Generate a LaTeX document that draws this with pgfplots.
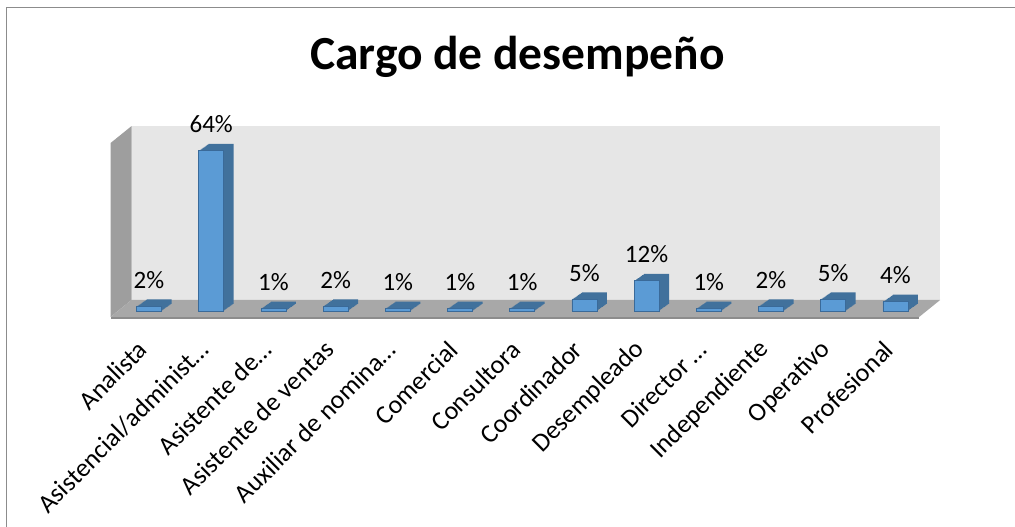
\documentclass[border=0pt]{standalone}
\usepackage{fontspec}
\setmainfont{Carlito}
\usepackage{pgfplots}
\usepackage{pgfplotstable}
\pgfplotsset{compat=1.18}
\definecolor{frontblue}{HTML}{5B9BD5}
\definecolor{sideblue}{HTML}{41719C}
\definecolor{edgeblue}{HTML}{3A6A99}
\definecolor{wallgray}{HTML}{E6E6E6}
\definecolor{floorgray}{HTML}{A8A8A8}
\definecolor{sidewall}{HTML}{9E9E9E}
\pgfplotstableread{
x y
0 1.87
1 64.49
2 0.93
3 1.87
4 0.93
5 0.93
6 0.93
7 4.67
8 12.15
9 0.93
10 1.87
11 4.67
12 3.74
}\data
\begin{document}
\begin{tikzpicture}[x=1pt,y=1pt]
\useasboundingbox (0,0) rectangle (1015,527);
\fill[white] (0,0) rectangle (1015,527);
\draw[black!45, line width=1pt] (6.5,-5) -- (6.5,519.5) -- (1020,519.5);
\node[font=\bfseries\fontsize{47.5}{52}\selectfont, anchor=base] at (517.5,457) {Cargo de desempeño};
\begin{axis}[
  at={(117.9pt,216pt)}, anchor=south west,
  scale only axis, width=808.6pt, height=173.9pt,
  xmin=-0.5, xmax=12.5, ymin=0, ymax=70,
  axis line style={draw=none},
  ytick=\empty,
  xtick={0,...,12},
  xticklabels={Analista,Asistencial/administ…,Asistente de…,Asistente de ventas,Auxiliar de nomina…,Comercial,Consultora,Coordinador,Desempleado,Director …,Independiente,Operativo,Profesional},
  major tick length=0pt,
  xticklabel style={font=\fontsize{26}{30}\selectfont, yshift=-32pt, xshift=-4pt, rotate=45, anchor=east},
  /pgf/number format/assume math mode=true,
  clip=false,
]
\fill[wallgray] ([xshift=13.6pt,yshift=11pt]rel axis cs:0,0) rectangle ([xshift=13.6pt,yshift=11pt]rel axis cs:1,1);
\fill[sidewall] ([xshift=-7.4pt,yshift=-6pt]rel axis cs:0,0) -- ([xshift=13.6pt,yshift=11pt]rel axis cs:0,0) -- ([xshift=13.6pt,yshift=11pt]rel axis cs:0,1) -- ([xshift=-7.4pt,yshift=-6pt]rel axis cs:0,1) -- cycle;
\fill[floorgray] ([xshift=-7.4pt,yshift=-6pt]rel axis cs:0,0) -- ([xshift=-7.4pt,yshift=-6pt]rel axis cs:1,0) -- ([xshift=13.6pt,yshift=11pt]rel axis cs:1,0) -- ([xshift=13.6pt,yshift=11pt]rel axis cs:0,0) -- cycle;
\fill[black!45] ([xshift=-7.4pt,yshift=-6pt]rel axis cs:0,0) rectangle ([xshift=-7.4pt,yshift=-8.5pt]rel axis cs:1,0);
\pgfplotsinvokeforeach{1,...,10}{
  \addplot[ybar, bar width=25pt, bar shift=#1pt, yshift=0.7*#1pt, fill=sideblue, draw=none] table[x=x,y=y]{\data};
}
\addplot[ybar, bar width=25pt, bar shift=0pt, fill=frontblue, draw=edgeblue, line width=0.8pt,
  nodes near coords={\pgfmathprintnumber[fixed,precision=0]{\pgfplotspointmeta}\%},
  every node near coord/.append style={anchor=base, yshift=18pt, font=\fontsize{25}{30}\selectfont, text=black}]
  table[x=x,y=y]{\data};
\end{axis}
\end{tikzpicture}
\end{document}
